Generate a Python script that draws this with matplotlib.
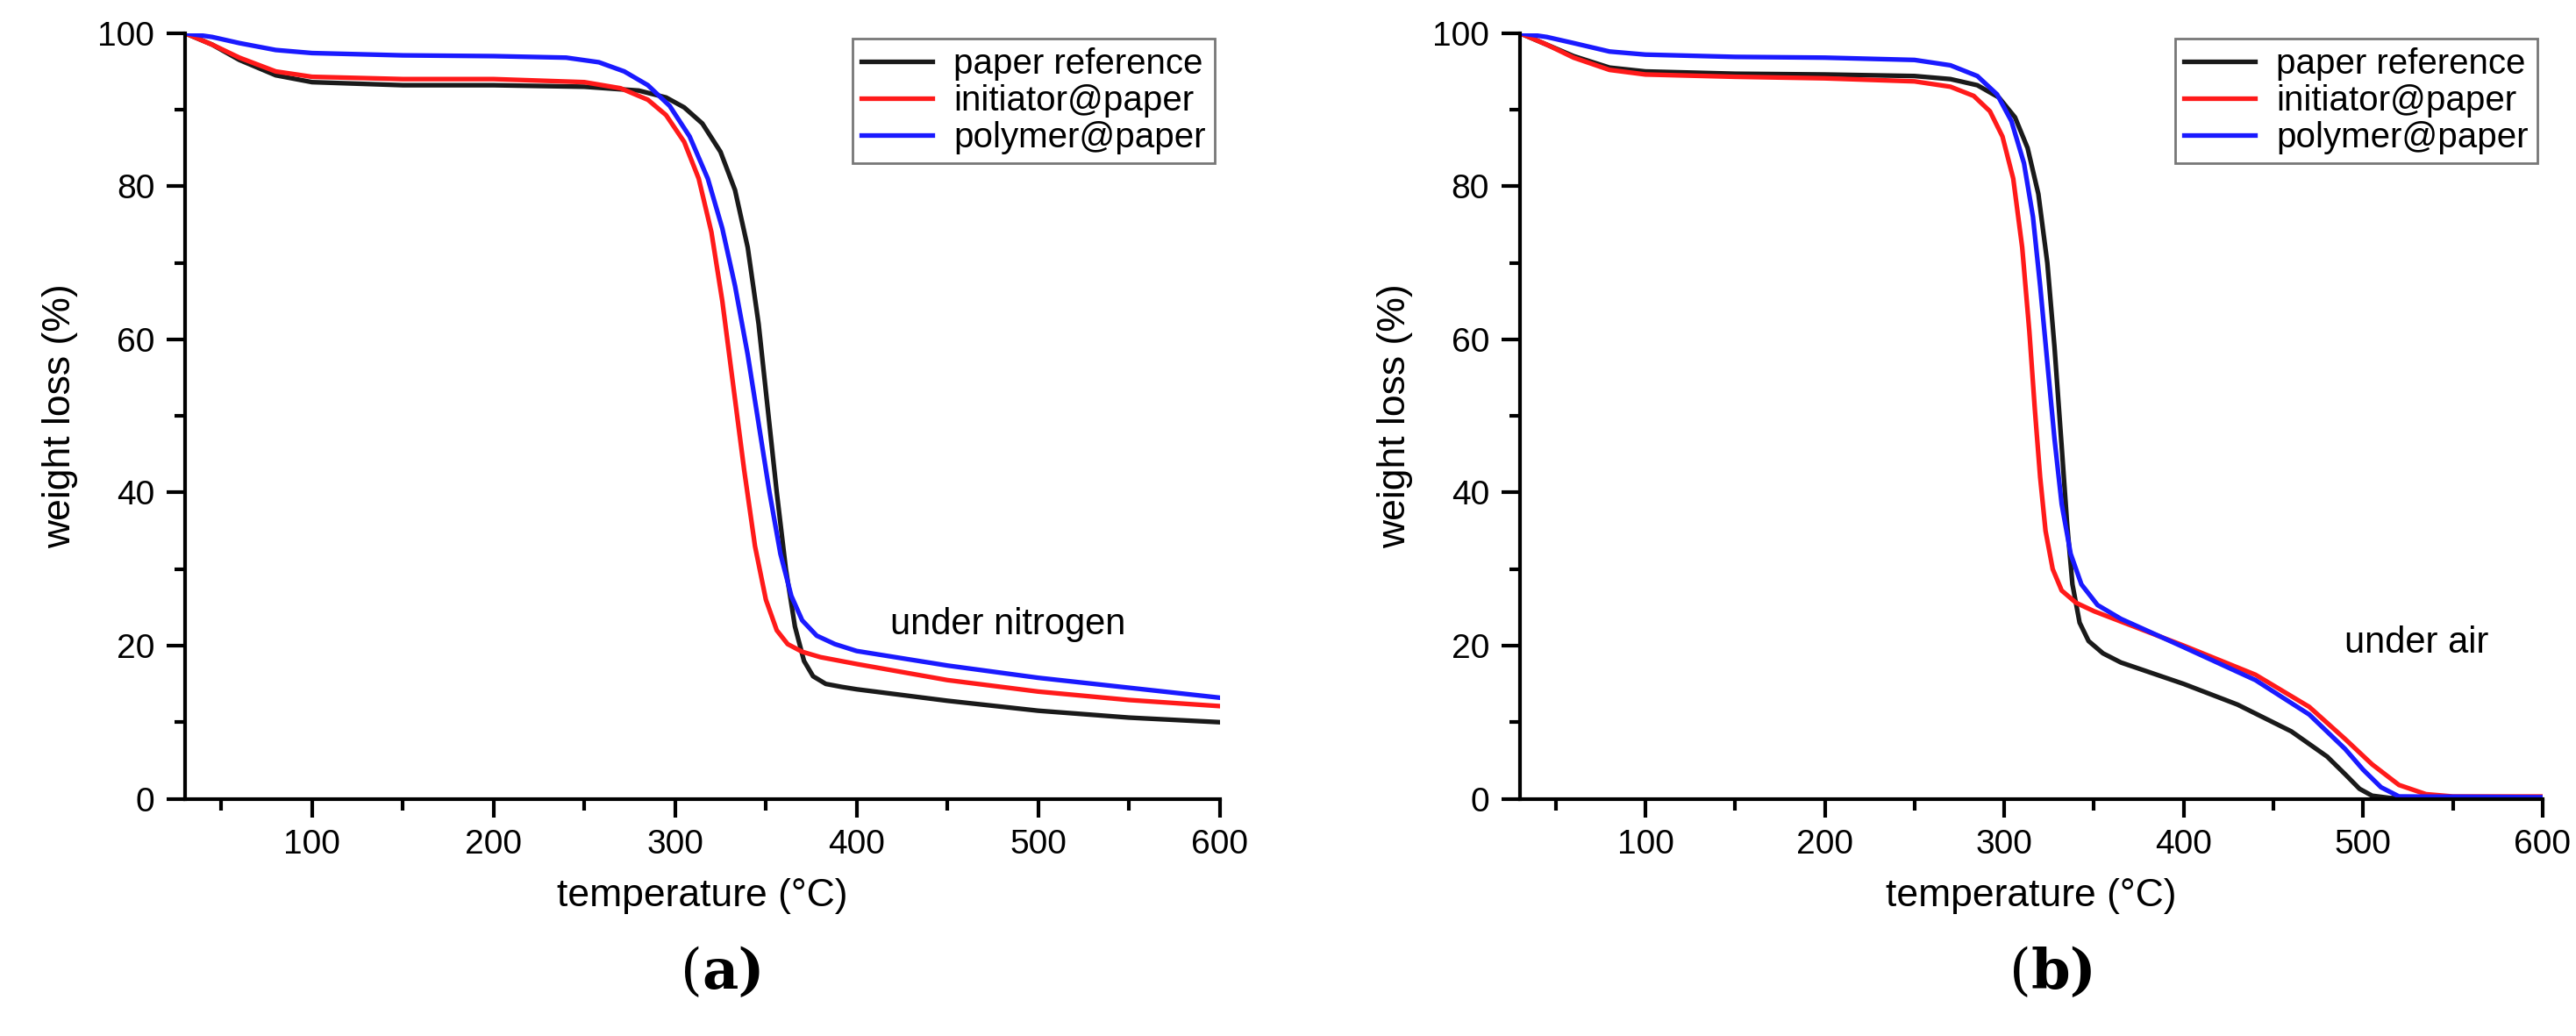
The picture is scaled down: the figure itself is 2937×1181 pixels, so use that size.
import matplotlib
matplotlib.use("Agg")
import matplotlib.pyplot as plt
from matplotlib.ticker import MultipleLocator

plt.rcParams['font.family'] = ['Liberation Sans', 'DejaVu Sans']

# (a) under nitrogen
n_ref_T = [30, 45, 60, 80, 100, 150, 200, 250, 280, 295, 305, 315, 325, 333, 340, 346, 351, 356, 361, 366, 371, 376, 383, 392, 400, 450, 500, 550, 600]
n_ref_W = [100, 98.5, 96.5, 94.5, 93.6, 93.2, 93.2, 93.0, 92.5, 91.6, 90.3, 88.2, 84.5, 79.5, 72, 62, 51, 40, 30, 22.5, 18, 16, 15, 14.6, 14.3, 12.8, 11.5, 10.6, 10.0]
n_ini_T = [30, 45, 60, 80, 100, 150, 200, 250, 270, 285, 295, 305, 313, 320, 326, 332, 338, 344, 350, 356, 362, 370, 380, 400, 450, 500, 550, 600]
n_ini_W = [100, 98.5, 96.8, 95.0, 94.3, 94.0, 94.0, 93.6, 92.8, 91.3, 89.3, 85.8, 81, 74, 65, 54, 43, 33, 26, 22, 20.2, 19.2, 18.5, 17.6, 15.5, 14, 12.9, 12.1]
n_pol_T = [30, 45, 60, 80, 100, 150, 200, 240, 258, 272, 285, 297, 308, 318, 326, 333, 340, 346, 352, 358, 364, 370, 378, 388, 400, 450, 500, 550, 600]
n_pol_W = [100, 99.5, 98.7, 97.8, 97.4, 97.1, 97.0, 96.8, 96.2, 95.0, 93.2, 90.5, 86.5, 81, 74.5, 67, 58, 49, 40, 32, 26.5, 23.3, 21.3, 20.2, 19.3, 17.4, 15.8, 14.5, 13.2]

# (b) under air
a_ref_T = [30, 45, 60, 80, 100, 150, 200, 250, 270, 285, 297, 306, 313, 319, 324, 328, 332, 335, 338, 342, 347, 355, 365, 400, 430, 460, 480, 490, 498, 505, 515, 600]
a_ref_W = [100, 98.5, 97, 95.5, 95.0, 94.7, 94.6, 94.4, 94.0, 93.2, 91.6, 89, 85, 79, 70, 59, 46, 36, 28, 23, 20.6, 19, 17.8, 15, 12.3, 8.8, 5.5, 3.2, 1.3, 0.4, 0.1, 0.1]
a_ini_T = [30, 45, 60, 80, 100, 150, 200, 250, 270, 283, 292, 299, 305, 310, 314, 317, 320, 323, 327, 332, 340, 350, 400, 440, 470, 490, 505, 520, 535, 550, 600]
a_ini_W = [100, 98.5, 96.8, 95.2, 94.6, 94.3, 94.1, 93.7, 93.0, 91.8, 89.8, 86.5, 81, 72, 61, 51, 42, 35, 30, 27.2, 25.6, 24.5, 20, 16.2, 12, 7.8, 4.5, 1.8, 0.6, 0.3, 0.3]
a_pol_T = [30, 45, 60, 80, 100, 150, 200, 250, 270, 285, 296, 304, 311, 316, 320, 324, 328, 332, 337, 343, 352, 365, 400, 440, 470, 490, 500, 510, 520, 600]
a_pol_W = [100, 99.5, 98.7, 97.6, 97.2, 96.9, 96.8, 96.5, 95.8, 94.4, 92, 88.5, 83, 76, 67, 57, 47, 38.5, 32, 28, 25.3, 23.5, 19.8, 15.5, 11, 6.5, 3.8, 1.5, 0.3, 0.2]

labels = ["paper reference", "initiator@paper", "polymer@paper"]
colors = ["#1a1a1a", "#ff1a1a", "#1a1aff"]

fig = plt.figure(figsize=(29.37, 11.81), dpi=100)
axes = [fig.add_axes([0.0718, 0.229, 0.4017, 0.739]),
        fig.add_axes([0.590, 0.229, 0.397, 0.739])]
data = [[(n_ref_T, n_ref_W), (n_ini_T, n_ini_W), (n_pol_T, n_pol_W)],
        [(a_ref_T, a_ref_W), (a_ini_T, a_ini_W), (a_pol_T, a_pol_W)]]
notes = [("under nitrogen", 548, 20.5), ("under air", 570, 18)]
panel = ["a", "b"]

for ax, d, note, p in zip(axes, data, notes, panel):
    for (T, W), lab, c in zip(d, labels, colors):
        ax.plot(T, W, color=c, lw=3.8, label=lab)
    ax.set_xlim(30, 600)
    ax.set_ylim(0, 100)
    ax.xaxis.set_major_locator(MultipleLocator(100))
    ax.xaxis.set_minor_locator(MultipleLocator(50))
    ax.yaxis.set_major_locator(MultipleLocator(20))
    ax.yaxis.set_minor_locator(MultipleLocator(10))
    for s in ["top", "right"]:
        ax.spines[s].set_visible(False)
    for s in ["left", "bottom"]:
        ax.spines[s].set_linewidth(3)
    ax.tick_params(which="major", direction="out", length=15, width=3, labelsize=28, pad=10)
    ax.tick_params(which="minor", direction="out", length=9, width=3)
    ax.set_xlabel("temperature (°C)", fontsize=32, labelpad=14)
    ax.set_ylabel("weight loss (%)", fontsize=32, labelpad=16)
    ax.text(note[1], note[2], note[0], fontsize=30, ha="right", va="bottom")
    leg = ax.legend(loc="upper right", fontsize=29, frameon=True, fancybox=False,
                    borderaxespad=0.15, handlelength=2.0, labelspacing=0.1,
                    borderpad=0.25, handletextpad=0.6, bbox_to_anchor=(1.0, 1.0))
    leg.get_frame().set_edgecolor("#555555")
    leg.get_frame().set_linewidth(2)
    for l in leg.get_lines():
        l.set_linewidth(3.8)
    x0, x1 = ax.get_position().x0, ax.get_position().x1
    fig.text((x0 + x1) / 2, 0.035, "(", fontsize=46, family="DejaVu Serif", ha="right", va="bottom")
    fig.text((x0 + x1) / 2, 0.035, p + ")", fontsize=46, family="DejaVu Serif", ha="left", va="bottom", fontweight="bold")

fig.savefig("out.png", dpi=100)
